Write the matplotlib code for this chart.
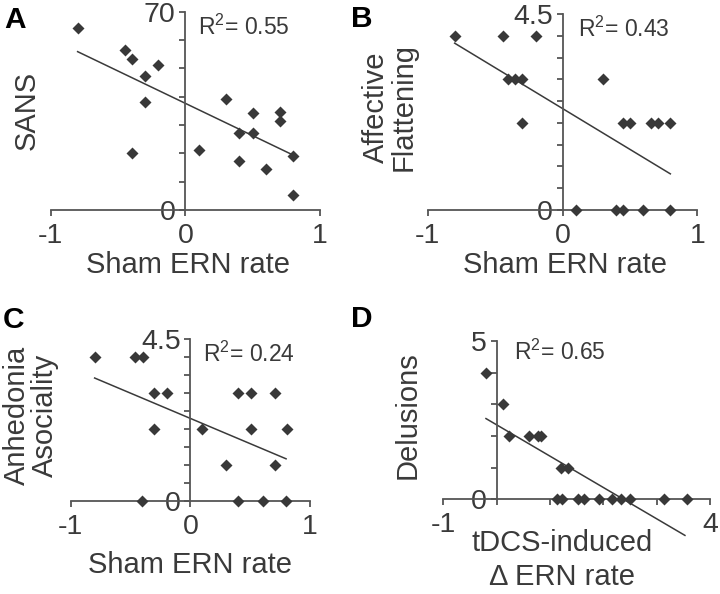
import matplotlib
matplotlib.use("Agg")
import matplotlib.pyplot as plt
import numpy as np

TICKFS = 20.5
TXT = '#3a3a3a'
SP = '#555555'
MK = '#383838'

plt.rcParams['font.family'] = ['Liberation Sans', 'DejaVu Sans']
plt.rcParams['mathtext.fontset'] = 'custom'
plt.rcParams['mathtext.rm'] = 'Liberation Sans'
plt.rcParams['mathtext.it'] = 'Liberation Sans'
plt.rcParams['mathtext.bf'] = 'Liberation Sans:bold'
plt.rcParams['xtick.labelsize'] = TICKFS
plt.rcParams['ytick.labelsize'] = TICKFS
plt.rcParams['xtick.labelcolor'] = TXT
plt.rcParams['ytick.labelcolor'] = TXT
plt.rcParams['xtick.color'] = SP
plt.rcParams['ytick.color'] = SP

# ---------------- data ----------------
a_x = [-0.80, -0.45, -0.395, -0.20, -0.30, -0.30, -0.395, 0.10, 0.30, 0.50, 0.70, 0.70, 0.40, 0.50, 0.40, 0.60, 0.80, 0.80]
a_y = [64.1, 56.5, 53.2, 51.2, 47.3, 38.2, 20.2, 21.2, 39.2, 34.2, 34.5, 31.3, 27.3, 27.3, 17.2, 14.4, 19.2, 5.3]
a_fit_x = [-0.8, 0.8]
a_fit_y = [55.9, 19.4]

b_x = [-0.80, -0.445, -0.20, -0.405, -0.356, -0.297, -0.30, 0.30, 0.45, 0.50, 0.655, 0.707, 0.80, 0.10, 0.40, 0.45, 0.60, 0.80]
b_y = [4, 4, 4, 3, 3, 3, 2, 3, 2, 2, 2, 2, 2, 0, 0, 0, 0, 0]
b_fit_x = [-0.8, 0.8]
b_fit_y = [3.83, 0.83]

c_x = [-0.797, -0.462, -0.398, -0.304, -0.198, -0.304, 0.10, 0.40, 0.51, 0.71, 0.51, 0.81, 0.30, 0.71, -0.40, 0.40, 0.61, 0.80]
c_y = [4, 4, 4, 3, 3, 2, 2, 3, 3, 3, 2, 2, 1, 1, 0, 0, 0, 0]
c_fit_x = [-0.8, 0.8]
c_fit_y = [3.41, 1.17]

d_x = [-0.20, 0.125, 0.23, 0.61, 0.77, 0.83, 1.21, 1.33, 1.125, 1.22, 1.53, 1.64, 1.925, 2.17, 2.34, 2.50, 3.14, 3.56]
d_y = [4, 3, 2, 2, 2, 2, 1, 1, 0, 0, 0, 0, 0, 0, 0, 0, 0, 0]
d_fit_x = [-0.2, 3.53]
d_fit_y = [2.55, -1.14]

r2_labels = [r"R$^{2}$= 0.55", r"R$^{2}$= 0.43", r"R$^{2}$= 0.24", r"R$^{2}$= 0.65"]
panel_letters = ["A", "B", "C", "D"]
ylabels = ["SANS", "Affective\nFlattening", "Anhedonia\nAsociality", "Delusions"]
xlabels = ["Sham ERN rate", "Sham ERN rate", "Sham ERN rate", "tDCS-induced\n\u0394 ERN rate"]

# ---------------- layout ----------------
W, H = 720, 594
fig = plt.figure(figsize=(W / 100, H / 100), dpi=100)


def fx(px):
    return px / W


def fy(py):
    return 1 - py / H


def make_ax(x0, x1, y0, y1):
    return fig.add_axes([fx(x0), fy(y0), fx(x1) - fx(x0), (y0 - y1) / H])


specs = [
    dict(box=(50.7, 320, 210, 11.7), xlim=(-1, 1), ylim=(0, 70), xticks=[-1, 0, 1], xtl=['-1', '0', '1'],
         yticks=np.arange(0, 71, 10), ytl={0: '0', 70: '70'}, x=a_x, y=a_y, fx_=a_fit_x, fy_=a_fit_y,
         r2=(198, 35), letter=(4, 28), ylab=(27, 110), xlab=(188, 265)),
    dict(box=(427.7, 697.3, 210, 14), xlim=(-1, 1), ylim=(0, 4.5), xticks=[-1, 0, 1], xtl=['-1', '0', '1'],
         yticks=np.arange(0, 4.51, 0.5), ytl={0: '0', 4.5: '4.5'}, x=b_x, y=b_y, fx_=b_fit_x, fy_=b_fit_y,
         r2=(578, 37), letter=(351, 27), ylab=(390, 107), xlab=(565, 265)),
    dict(box=(70.7, 310, 501, 338.7), xlim=(-1, 1), ylim=(0, 4.5), xticks=[-1, 0, 1], xtl=['-1', '0', '1'],
         yticks=np.arange(0, 4.51, 0.5), ytl={0: '0', 4.5: '4.5'}, x=c_x, y=c_y, fx_=c_fit_x, fy_=c_fit_y,
         r2=(203, 362), letter=(3, 328), ylab=(31, 415), xlab=(190, 565)),
    dict(box=(443.3, 710, 499.3, 341), xlim=(-1, 4), ylim=(0, 5), xticks=[-1, 0, 1, 2, 3, 4],
         xtl=['-1', '', '', '', '', '4'],
         yticks=np.arange(0, 6, 1), ytl={0: '0', 5: '5'}, x=d_x, y=d_y, fx_=d_fit_x, fy_=d_fit_y,
         r2=(514, 360), letter=(351, 327), ylab=(408, 415), xlab=(562, 560)),
]

for i, s in enumerate(specs):
    ax = make_ax(*s['box'])
    ax.set_xlim(*s['xlim'])
    ax.set_ylim(*s['ylim'])
    ax.patch.set_alpha(0)
    for side in ['top', 'right']:
        ax.spines[side].set_visible(False)
    ax.spines['left'].set_position(('data', 0))
    ax.spines['bottom'].set_position(('data', 0))
    ax.spines['left'].set_bounds(s['ylim'][0], s['ylim'][1])
    ax.spines['bottom'].set_bounds(s['xlim'][0], s['xlim'][1])
    for side in ['left', 'bottom']:
        ax.spines[side].set_color(SP)
        ax.spines[side].set_linewidth(1.3)

    ax.set_xticks(s['xticks'])
    ax.set_xticklabels(s['xtl'])
    ax.set_yticks(s['yticks'])
    ax.set_yticklabels([s['ytl'].get(round(float(v), 2), '') for v in s['yticks']])
    ax.tick_params(axis='both', direction='out', length=4.5, width=1.3, color=SP,
                   labelsize=TICKFS, labelcolor=TXT)
    ax.tick_params(axis='y', pad=2.5)
    ax.tick_params(axis='x', pad=5)

    ax.plot(s['fx_'], s['fy_'], color='#3a3a3a', lw=1.1, clip_on=False, zorder=2)
    ax.plot(s['x'], s['y'], linestyle='none', marker='D', ms=5.8, color=MK, mec='none',
            clip_on=False, zorder=3)

    ax.text(fx(s['r2'][0]), fy(s['r2'][1]), r2_labels[i], transform=fig.transFigure,
            fontsize=16.5, color=TXT, ha='left', va='baseline')
    fig.text(fx(s['letter'][0]), fy(s['letter'][1]), panel_letters[i], fontsize=21.5,
             fontweight='bold', color='black', ha='left', va='baseline')

    ax.set_ylabel(ylabels[i], fontsize=21, color=TXT, rotation=90, va='center', ha='center',
                  linespacing=1.0)
    ax.yaxis.set_label_coords(fx(s['ylab'][0]), fy(s['ylab'][1]), transform=fig.transFigure)
    ax.set_xlabel(xlabels[i], fontsize=21, color=TXT, va='center', ha='center', linespacing=1.25)
    ax.xaxis.set_label_coords(fx(s['xlab'][0]), fy(s['xlab'][1]), transform=fig.transFigure)

fig.savefig('out.png', dpi=100)
